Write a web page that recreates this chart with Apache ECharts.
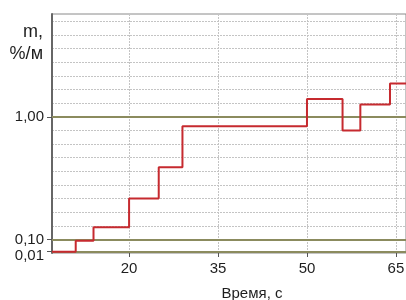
<!DOCTYPE html>
<html>
<head>
<meta charset="utf-8">
<script src="https://cdn.jsdelivr.net/npm/echarts@6/dist/echarts.min.js"></script>
<style>
  html, body { margin: 0; padding: 0; background: #fff; }
  #chart { width: 406px; height: 300px; }
</style>
</head>
<body>
<div id="chart"></div>
<script>
  // время, с и значения ступенчатой кривой
  const times = [7, 11, 14, 20, 25, 29, 50, 56, 59, 64, 68]
  const values = [0.01, 0.09, 0.19, 0.40, 0.63, 0.93, 1.13, 0.90, 1.09, 1.245, 1.245]
  const xTicks = [20, 35, 50, 65]
  const yTicks = [0.01, 0.10, 1.00]
  const yTickLabels = ['0,01', '0,10', '1,00']
  const refLines = [0.01, 0.10, 1.00]

  const font = 'Liberation Sans, Arial, sans-serif'
  const myChart = echarts.init(document.getElementById('chart'))
  const option = {
    animation: false,
    grid: {
      left: 52, right: 0, top: 14, bottom: 47,
      outerBoundsMode: 'none', containLabel: false,
      show: true, borderColor: '#8a8a8a', borderWidth: 1
    },
    xAxis: {
      type: 'value',
      min: 7,
      max: 66.7,
      name: 'Время, с',
      nameLocation: 'middle',
      nameGap: 33,
      nameTextStyle: { color: '#1e1e1e', fontSize: 15, fontFamily: font, padding: [0, 0, 0, 46] },
      axisLine: { show: false },
      axisTick: { show: true, length: 4, customValues: xTicks, lineStyle: { color: '#555' } },
      axisLabel: { customValues: xTicks, color: '#1e1e1e', fontSize: 15, fontFamily: font, margin: 8 },
      splitLine: { show: true, lineStyle: { color: '#c4c4c4', type: [2, 1] } }
    },
    yAxis: [{
      type: 'value',
      min: 0,
      max: 1.755,
      interval: 0.1,
      name: 'm,\n%/м',
      nameLocation: 'end',
      nameGap: -7,
      nameTextStyle: { color: '#1e1e1e', fontSize: 18, fontFamily: font, align: 'right', verticalAlign: 'top', lineHeight: 22, padding: [0, 9, 0, 0] },
      axisLine: { show: true, lineStyle: { color: '#666', width: 2 } },
      axisTick: { show: true, length: 5, customValues: yTicks, lineStyle: { color: '#555' } },
      axisLabel: {
        customValues: yTicks,
        color: '#1e1e1e', fontSize: 15, fontFamily: font, margin: 8,
        formatter: v => {
          const i = yTicks.findIndex(t => Math.abs(t - v) < 1e-6)
          const s = i >= 0 ? yTickLabels[i] : ''
          return v < 0.05 ? '{lo|' + s + '}' : s
        },
        rich: { lo: { color: '#1e1e1e', fontSize: 15, fontFamily: font, padding: [9, 0, 0, 0] } }
      },
      splitLine: { show: false }
    }, {
      type: 'value',
      min: 0,
      max: 1.755,
      interval: 0.1,
      position: 'left',
      axisLine: { show: false },
      axisTick: { show: false },
      axisLabel: { show: false },
      splitLine: { show: true, lineStyle: { color: '#c4c4c4', type: [2, 1] } }
    }],
    series: [{
      type: 'line',
      step: 'end',
      data: times.map((t, i) => [t, values[i]]),
      symbol: 'none',
      clip: true,
      lineStyle: { color: '#c62a2f', width: 2 },
      z: 5,
      markLine: {
        silent: true,
        symbol: 'none',
        label: { show: false },
        lineStyle: { color: '#8b8b5e', width: 2, type: 'solid' },
        data: refLines.map(v => ({ yAxis: v }))
      }
    }]
  }
  myChart.setOption(option)
</script>
</body>
</html>
